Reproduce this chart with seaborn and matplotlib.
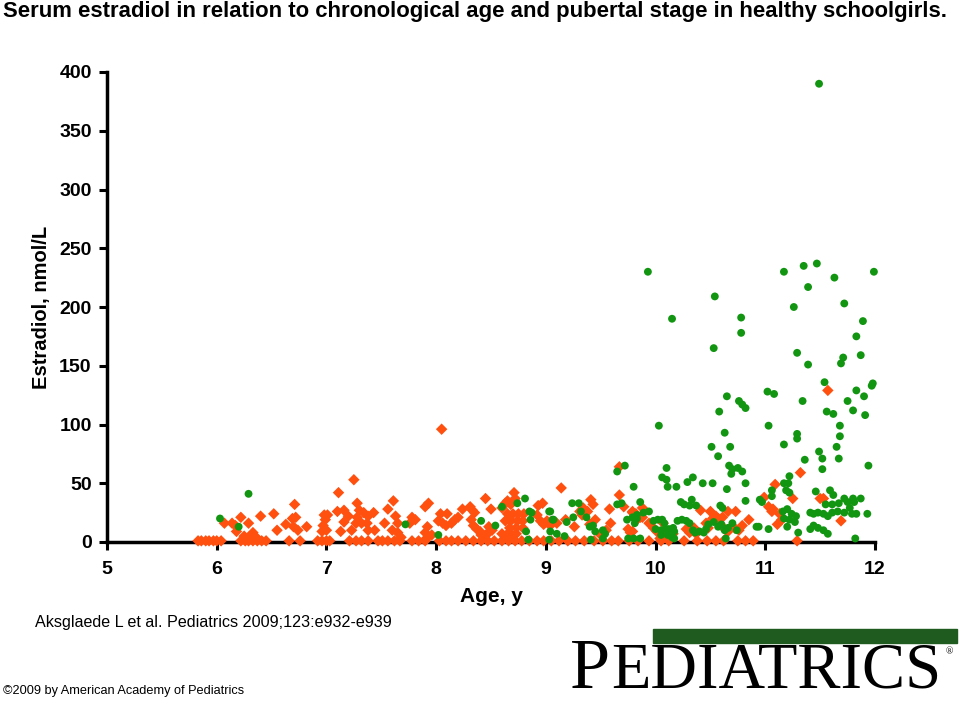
import pandas as pd
import matplotlib
matplotlib.use('Agg')
import matplotlib.pyplot as plt
import seaborn as sns

# Prepubertal girls (B1) - orange diamonds, (age in years, estradiol)
b1_points = [
    # undetectable row at the bottom
    (5.83, 1), (5.86, 1), (5.90, 1), (5.93, 1), (5.97, 1), (6.00, 1), (6.04, 1),
    (6.22, 1), (6.26, 1), (6.29, 1), (6.33, 1), (6.37, 1), (6.41, 1), (6.45, 1),
    (6.66, 1), (6.76, 1), (6.92, 1), (6.96, 1), (7.00, 1), (7.03, 1),
    (7.21, 1), (7.27, 1), (7.32, 1), (7.38, 1), (7.47, 1), (7.51, 1), (7.56, 1),
    (7.62, 1), (7.67, 1), (7.78, 1), (7.84, 1), (7.90, 1), (8.03, 1), (8.09, 1),
    (8.14, 1), (8.20, 1), (8.27, 1), (8.34, 1), (8.41, 1), (8.47, 1), (8.53, 1),
    (8.60, 1), (8.66, 1), (8.72, 1), (8.78, 1), (8.85, 1), (8.92, 1), (8.98, 1),
    (9.05, 1), (9.12, 1), (9.20, 1), (9.27, 1), (9.35, 1), (9.44, 1), (9.52, 1),
    (9.60, 1), (9.66, 1), (9.76, 1), (9.84, 1), (9.94, 1), (10.05, 1), (10.12, 1),
    (10.26, 1), (10.38, 1), (10.47, 1), (10.55, 1), (10.62, 1), (10.75, 1),
    (10.82, 1), (10.89, 1), (11.29, 1),
    # 6-7 years
    (6.07, 16), (6.14, 16), (6.17, 14), (6.22, 21), (6.18, 9), (6.29, 16),
    (6.25, 5), (6.29, 4), (6.33, 8), (6.36, 4), (6.40, 22), (6.52, 24),
    (6.55, 10), (6.63, 15), (6.71, 32), (6.69, 20), (6.72, 21), (6.70, 13),
    (6.74, 10), (6.82, 13),
    # 7-8 years
    (6.98, 23), (7.01, 23), (6.99, 19), (6.97, 14), (6.96, 9), (7.00, 10),
    (7.11, 42), (7.25, 53), (7.10, 26), (7.16, 27), (7.20, 22), (7.16, 17),
    (7.13, 9), (7.28, 33), (7.30, 27), (7.28, 21), (7.34, 25), (7.38, 22),
    (7.43, 25), (7.37, 16), (7.32, 16), (7.27, 16), (7.23, 10), (7.38, 10),
    (7.44, 10), (7.53, 16), (7.56, 28), (7.61, 35), (7.63, 22), (7.65, 16),
    (7.60, 10), (7.65, 8), (7.68, 4),
    # 8-9 years
    (7.93, 33), (7.90, 30), (7.78, 21), (7.81, 19), (7.76, 16), (8.04, 24),
    (8.10, 24), (8.02, 18), (8.06, 16), (8.09, 14), (7.92, 13), (7.90, 8),
    (7.96, 6), (7.91, 3), (8.05, 96),
    (8.14, 16), (8.17, 19), (8.20, 21), (8.24, 28), (8.31, 30), (8.33, 27),
    (8.35, 25), (8.32, 19), (8.34, 14), (8.37, 11), (8.40, 9), (8.48, 13),
    (8.51, 10), (8.41, 6), (8.45, 6), (8.48, 8), (8.45, 37), (8.50, 28),
    (8.60, 29), (8.63, 33), (8.65, 35), (8.71, 42), (8.72, 37), (8.68, 32),
    (8.65, 24), (8.70, 24), (8.75, 24), (8.80, 24), (8.63, 18), (8.68, 18),
    (8.74, 18), (8.79, 18), (8.67, 12), (8.73, 12), (8.79, 12), (8.60, 7),
    (8.64, 6), (8.69, 6), (8.73, 7),
    # 9-10 years
    (8.93, 31), (8.97, 33), (8.92, 23), (8.95, 18), (8.98, 15), (9.01, 18),
    (9.04, 14), (9.14, 46), (9.10, 16), (9.18, 19), (9.26, 13), (9.31, 26),
    (9.34, 29), (9.38, 26), (9.41, 36), (9.43, 32), (9.33, 23), (9.40, 15),
    (9.45, 19), (9.58, 28), (9.59, 16), (9.67, 40), (9.71, 30), (9.67, 64),
    (9.79, 25), (9.83, 19), (9.88, 29), (9.86, 21), (9.79, 26), (9.82, 24),
    (9.88, 21), (9.75, 11), (9.79, 9), (9.77, 8), (9.94, 16), (9.98, 12),
    (10.01, 9), (10.04, 3), (10.08, 4), (9.50, 6), (9.55, 10),
    # 10-12 years
    (10.07, 16), (10.10, 7), (10.12, 6), (10.16, 7), (10.14, 4),
    (10.28, 11), (10.31, 8), (10.35, 12), (10.37, 7), (10.41, 27), (10.50, 26),
    (10.55, 22), (10.57, 20), (10.61, 21), (10.66, 26), (10.73, 26),
    (10.48, 12), (10.46, 16), (10.52, 20), (10.59, 15), (10.64, 10),
    (10.66, 9), (10.72, 12), (10.76, 10), (10.79, 14), (10.85, 19),
    (10.99, 38), (11.03, 30), (11.07, 28), (11.11, 15), (11.09, 49),
    (11.06, 26), (11.13, 24), (11.15, 19), (11.25, 37), (11.32, 59),
    (11.50, 37), (11.53, 37), (11.57, 129), (11.69, 18),
]

# Pubertal girls (B2+) - green circles
b2_points = [
    (6.03, 20), (6.20, 13), (6.29, 41), (7.72, 15), (8.02, 6), (8.41, 18),
    (8.54, 14), (8.60, 30), (8.74, 33), (8.81, 37), (8.85, 26), (8.86, 19),
    (8.82, 9), (8.84, 2), (9.04, 9), (9.03, 2), (8.87, 25), (9.03, 26),
    (9.06, 19), (9.04, 26), (9.07, 19), (9.19, 17), (9.24, 33), (9.30, 33),
    (9.32, 26), (9.25, 21), (9.10, 7), (9.17, 5), (9.37, 21), (9.40, 13),
    (9.43, 14), (9.45, 9), (9.52, 10), (9.54, 7), (9.41, 2), (9.52, 3),
    (9.65, 32), (9.69, 33), (9.74, 19), (9.79, 21), (9.83, 23), (9.80, 47),
    (9.86, 34), (9.89, 25), (9.94, 26), (9.65, 60), (9.72, 65), (9.83, 20),
    (9.81, 16), (9.75, 3), (9.80, 3), (9.86, 3),
    (9.93, 230), (10.03, 99), (10.10, 63), (10.06, 55), (10.10, 53),
    (10.11, 47), (10.19, 47), (10.15, 190), (10.23, 34), (10.26, 32),
    (10.31, 31), (10.33, 36), (10.37, 31), (10.20, 18), (10.24, 19),
    (10.28, 18), (10.31, 16), (9.98, 18), (10.02, 19), (10.06, 19),
    (10.08, 16), (10.00, 11), (10.05, 10), (10.09, 11), (10.12, 11),
    (10.16, 12), (10.17, 9), (10.05, 6), (10.11, 6), (10.15, 4), (10.17, 3),
    (10.34, 55), (10.29, 51), (10.43, 50), (10.52, 50), (10.34, 10),
    (10.36, 8), (10.40, 9), (10.44, 8), (10.46, 11), (10.48, 15), (10.53, 17),
    (10.57, 13), (10.60, 15), (10.63, 10), (10.66, 12), (10.70, 16),
    (10.74, 10), (10.64, 3), (10.51, 81), (10.68, 81), (10.57, 73),
    (10.67, 65), (10.70, 62), (10.75, 63), (10.79, 60), (10.69, 58),
    (10.82, 50), (10.65, 45), (10.59, 31), (10.61, 29), (10.82, 35),
    (10.58, 111), (10.63, 93), (10.76, 120), (10.79, 117), (10.82, 114),
    (10.65, 124), (10.53, 165), (10.54, 209), (10.78, 191), (10.78, 178),
    (10.92, 13), (10.94, 13), (10.95, 36), (10.97, 34), (11.03, 11),
    (11.02, 128), (11.08, 126), (11.03, 99), (11.06, 44), (11.06, 39),
    (11.17, 83), (11.17, 50), (11.21, 50), (11.22, 56), (11.19, 44),
    (11.22, 42), (11.16, 26), (11.20, 28), (11.24, 24), (11.28, 22),
    (11.17, 20), (11.22, 19), (11.27, 17), (11.20, 13), (11.30, 8),
    (11.17, 230), (11.35, 235), (11.47, 237), (11.39, 217), (11.26, 200),
    (11.29, 161), (11.39, 151), (11.34, 120), (11.29, 92), (11.29, 88),
    (11.36, 70), (11.49, 390), (11.49, 77), (11.52, 71), (11.52, 62),
    (11.46, 43), (11.59, 44), (11.62, 40), (11.54, 136), (11.56, 111),
    (11.62, 109), (11.63, 225), (11.65, 81), (11.67, 71), (11.68, 99),
    (11.68, 90), (11.72, 203), (11.71, 157), (11.69, 152), (11.75, 120),
    (11.80, 112), (11.83, 175), (11.83, 129), (11.87, 159), (11.89, 188),
    (11.90, 124), (11.91, 108), (11.94, 65), (11.97, 133), (11.98, 135),
    (11.99, 230), (11.55, 32), (11.61, 32), (11.67, 33), (11.72, 37),
    (11.75, 34), (11.80, 37), (11.81, 34), (11.87, 37), (11.41, 25),
    (11.44, 24), (11.48, 25), (11.53, 24), (11.57, 22), (11.61, 25),
    (11.66, 26), (11.72, 25), (11.77, 29), (11.79, 24), (11.83, 24),
    (11.93, 24), (11.44, 14), (11.48, 12), (11.53, 10), (11.57, 7),
    (11.41, 11), (11.82, 3),
]

x_ticks = [5, 6, 7, 8, 9, 10, 11, 12]
y_ticks = [0, 50, 100, 150, 200, 250, 300, 350, 400]

b1 = pd.DataFrame(b1_points, columns=['age', 'e2'])
b2 = pd.DataFrame(b2_points, columns=['age', 'e2'])

sns.set_style('white')
plt.rcParams['font.family'] = ['Liberation Sans', 'DejaVu Sans']
plt.rcParams['text.color'] = 'black'
plt.rcParams['axes.labelcolor'] = 'black'
plt.rcParams['xtick.color'] = 'black'
plt.rcParams['ytick.color'] = 'black'

fig = plt.figure(figsize=(9.6, 7.02), dpi=100)
ax = fig.add_axes([107 / 960, 1 - 542 / 702, 768 / 960, 470 / 702])

sns.scatterplot(data=b1, x='age', y='e2', marker='D', color='#ff5010', s=34,
                edgecolor='none', ax=ax, clip_on=False, zorder=3)
sns.scatterplot(data=b2, x='age', y='e2', marker='o', color='#129612', s=32,
                edgecolor='none', ax=ax, clip_on=False, zorder=3)

ax.set_xlim(5, 12)
ax.set_ylim(0, 400)
ax.set_xticks(x_ticks)
ax.set_yticks(y_ticks)
ax.set_xticklabels([str(t) for t in x_ticks], fontweight='bold', fontsize=14)
ax.set_yticklabels([str(t) for t in y_ticks], fontweight='bold', fontsize=14)
ax.tick_params(axis='both', direction='out', length=6, width=2.2, color='black',
               labelcolor='black', bottom=True, left=True, pad=5)
ax.tick_params(axis='x', pad=8)
for side in ['top', 'right']:
    ax.spines[side].set_visible(False)
for side in ['left', 'bottom']:
    ax.spines[side].set_linewidth(2.5)
    ax.spines[side].set_color('black')
ax.set_xlabel('Age, y', fontweight='bold', fontsize=15, labelpad=6, color='black')
ax.set_ylabel('Estradiol, nmol/L', fontweight='bold', fontsize=14.5, labelpad=6,
              color='black')

fig.text(3 / 960, 1 - 12 / 702,
         'Serum estradiol in relation to chronological age and pubertal stage in healthy schoolgirls.',
         fontsize=15.9, fontweight='bold', ha='left', va='center', color='black')
fig.text(35 / 960, 1 - 623 / 702, 'Aksglaede L et al. Pediatrics 2009;123:e932-e939',
         fontsize=11.6, ha='left', va='center', color='black')
fig.text(3 / 960, 1 - 691 / 702, '\u00a92009 by American Academy of Pediatrics',
         fontsize=9.2, ha='left', va='center', color='black')

# journal logo
fig.patches.append(plt.Rectangle((653 / 960, 1 - 643 / 702), 304 / 960, 14 / 702,
                                 transform=fig.transFigure, color='#1f5a1f'))
fig.text(570 / 960, 1 - 688 / 702, 'P', fontsize=52, family='Liberation Serif',
         ha='left', va='baseline', color='black')
fig.text(611 / 960, 1 - 688 / 702, 'EDIATRICS', fontsize=46.5, family='Liberation Serif',
         ha='left', va='baseline', color='black')
fig.text(946 / 960, 1 - 652 / 702, '\u00ae', fontsize=7, family='Liberation Serif',
         ha='left', va='center', color='black')

fig.savefig('out.png', dpi=100)
